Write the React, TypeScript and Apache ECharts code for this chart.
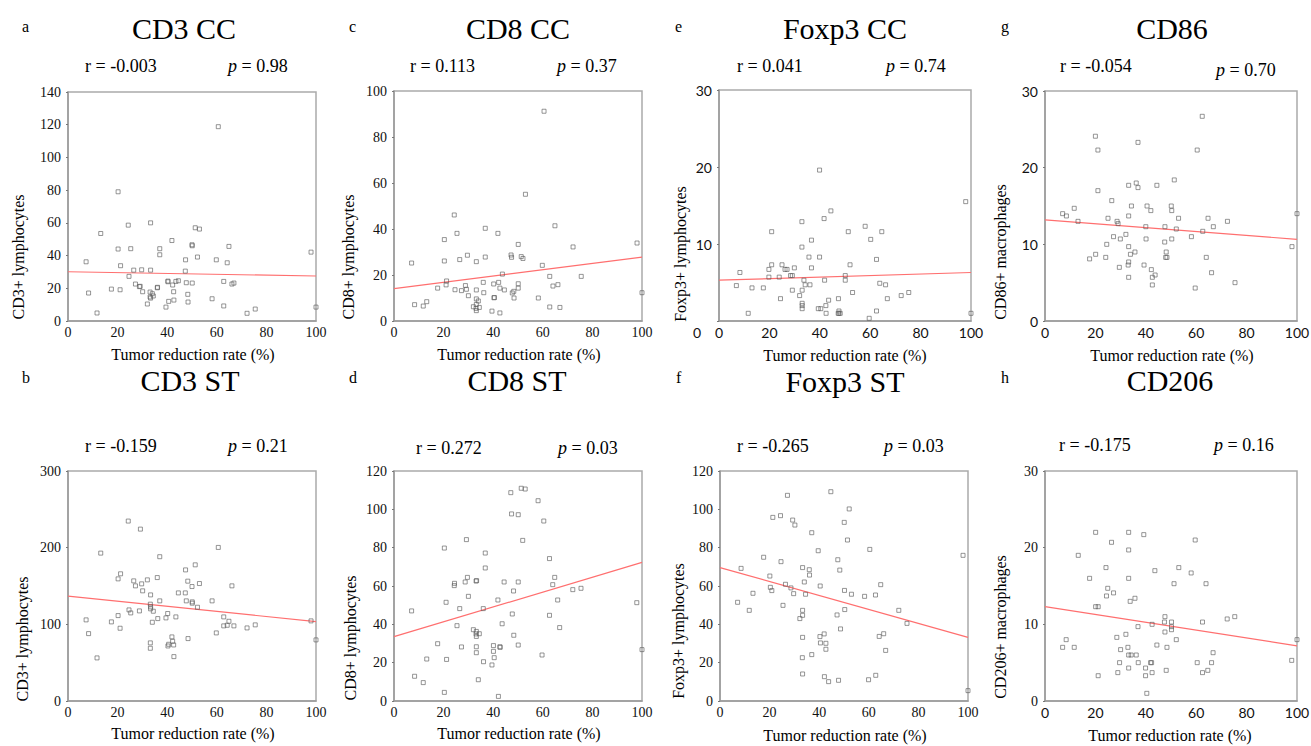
import React, { useEffect, useRef } from "react";
import * as echarts from "echarts";

type Pt = [number, number];

// ---- data (tumor reduction rate %, cell count) ----
const cd3CC: Pt[] = [[7.3,36.2],[8.3,17.1],[11.7,4.9],[13.2,53.5],[17.5,19.5],[20.2,79],[20.2,44],[21,19.1],[21.2,33.8],[24.3,58.6],[24.6,27.3],[25.3,44.2],[26.5,31.1],[27.2,22.6],[28.8,21],[29.1,21.2],[29.7,31.3],[30.1,17.9],[32,10.4],[33.3,60],[33.3,31.1],[33.1,17.7],[33.1,14.7],[33.3,14.0],[34,16.7],[34.4,15.3],[36,20.3],[36.1,20.6],[37,44.2],[37,40.5],[39.5,8.5],[40.3,24],[40.3,24.4],[40.6,12],[41.9,49.2],[42.2,22],[42.6,17.9],[42.7,12.8],[43.5,24.2],[44.5,24.6],[47.4,37.4],[47.3,30.5],[47.7,23.4],[48.3,16.3],[48.4,11.6],[50,46.6],[50.1,46],[50.1,23.2],[51.3,57],[52.2,39.1],[53,56.2],[58.1,13.6],[59.8,37.4],[60.6,118.8],[62.8,24.2],[62.8,9.2],[64.2,35.6],[64.9,45.6],[66.1,22.6],[66.9,23.2],[72.2,4.7],[75.5,7.3],[98,42.1],[100,8.5]];
const cd8CC: Pt[] = [[7.1,25.2],[8.3,7.1],[11.8,6.5],[13.2,8.4],[17.6,14.3],[20.3,35.4],[20.3,26.1],[21,15.7],[21.2,17.4],[24.3,46.1],[24.6,13.6],[25.4,38.1],[26.5,26.7],[27.2,13.2],[28.8,15.4],[29.2,13.8],[29.6,28.6],[30,11],[32,6.2],[33.1,5.5],[33.2,25.8],[33.2,13.5],[33.2,9.6],[34,8.7],[33.2,7.2],[34.4,5.9],[33.2,4.5],[36,16.8],[36.2,12.3],[36.8,40.3],[36.8,27.8],[39.5,4.3],[40.2,16.1],[40.3,10.1],[40.5,10.2],[41.9,38.1],[42.2,16.8],[42.7,14.3],[42.7,3.5],[43.7,20.4],[44.5,13.5],[47.2,28.7],[47.4,27.7],[47.7,12.2],[48.3,12.9],[48.4,10],[50.1,33.3],[50.1,16.2],[50.1,14.3],[51.3,28],[52,27.2],[53,55.1],[58.2,10],[59.8,24.2],[60.5,91.2],[62.8,19.4],[62.8,6.1],[64.1,15.2],[64.9,41.4],[66.1,15.8],[66.9,5.9],[72.2,32.2],[75.5,19.4],[98,33.9],[100,12.3]];
const foxp3CC: Pt[] = [[6.9,4.6],[8.3,6.3],[11.6,1.0],[13.1,4.3],[17.6,4.3],[19.8,6.7],[19.8,5.7],[20.9,11.6],[20.9,7.3],[23.9,5.7],[24.4,2.9],[25,7.3],[26.2,6.7],[27,6.7],[28.4,5.9],[29.1,5.9],[29.1,4.0],[29.9,6.9],[32,3.3],[32.9,12.9],[32.9,9.6],[33,4.0],[33,2.3],[33,2.0],[33,1.6],[33.7,5.3],[34.2,4.7],[35.7,8.3],[36.1,4.7],[36.7,10.5],[36.7,6.9],[39.4,1.6],[39.9,19.6],[39.9,8.3],[40.4,1.6],[41.7,13.3],[41.9,5.3],[42.4,2.0],[42.5,1.0],[43.5,2.7],[44.4,14.3],[47.4,2.9],[47.6,1.3],[47.6,1.0],[48.1,1.0],[47.3,1.0],[50.1,5.9],[50.1,5.3],[51.3,11.6],[52,7.3],[53,3.7],[58,12.3],[59.6,0.35],[60.2,10.6],[62.5,8.0],[62.5,1.3],[63.8,4.9],[64.6,11.6],[66.1,4.7],[66.8,2.9],[72.3,3.3],[75.3,3.7],[97.9,15.5],[100,1.0]];
const cd86: Pt[] = [[7,14.0],[8.5,13.7],[11.6,14.7],[13.1,13.0],[17.7,8.1],[20,24.1],[20.1,8.7],[21,22.3],[21,17.0],[24.1,8.3],[24.5,10.0],[25,13.4],[26.5,15.7],[27.2,11.0],[28.6,13.0],[29,12.7],[29.5,7.0],[29.9,10.7],[32.1,11.3],[33.2,17.7],[33.2,13.7],[33.2,9.7],[33.2,7.7],[33,7.3],[33.2,5.7],[33.9,8.7],[34.3,15.0],[35.7,9.0],[36.2,18.0],[36.9,17.4],[36.9,23.3],[39.3,7.3],[40,12.3],[40.1,10.7],[40.5,15.0],[42,14.4],[42.2,6.7],[42.6,5.7],[42.6,4.7],[43.7,6.0],[44.4,17.7],[47.5,10.3],[47.6,12.3],[47.9,8.3],[48.1,9.0],[48.4,8.3],[50.1,15.0],[50.3,14.4],[50.3,10.7],[51.3,18.4],[52.1,12.0],[53,13.4],[58.1,11.0],[59.6,4.3],[60.4,22.3],[62.4,26.7],[62.6,11.7],[64,8.3],[64.7,13.4],[66.1,6.3],[66.8,12.3],[72.4,13.0],[75.4,5.0],[98,9.7],[100,14.0]];
const cd3ST: Pt[] = [[7.3,105.8],[8.3,87.9],[11.7,56.2],[13.2,192.9],[17.5,103.2],[20.2,159.3],[20.2,111.4],[21,94.9],[21.2,165.9],[24.3,234.7],[24.6,118.8],[25.3,114.9],[26.5,156.7],[27.2,150.2],[28.8,117.5],[29.2,224.2],[29.7,152.8],[30.1,143.7],[32,158],[33.3,138.4],[33.2,126.3],[33.3,122.8],[33.3,120.2],[33.2,75.8],[33.2,68.8],[34,102.7],[34.4,117.1],[36,161],[36.2,107.5],[37,188.2],[37,130.6],[39.5,108.4],[40.2,114.1],[40.3,71.8],[40.6,74],[41.9,83.6],[42.2,77.9],[42.6,73.1],[42.7,57.9],[43.5,109.7],[44.5,141],[47.3,141],[47.4,171],[47.7,130.6],[48.3,156.3],[48.4,81.4],[50,149.3],[50.1,129.3],[50.1,127.6],[51.3,177.6],[52.2,122.3],[53,153.2],[58.1,130.6],[59.8,88.8],[60.6,200.3],[62.8,109.7],[62.8,98],[64.2,98.8],[64.9,104],[66.1,150.2],[66.9,98],[72.2,95.3],[75.5,99.3],[98,104.5],[100,79.7]];
const cd8ST: Pt[] = [[7.1,47],[8.3,12.9],[11.8,9.6],[13.2,21.9],[17.6,29.9],[20.3,79.8],[20.3,4.5],[21,51.5],[21.2,21.7],[24.3,60.2],[24.4,61.4],[25.4,39.3],[26.5,48.2],[27.2,28.2],[28.7,62.1],[29.2,84.2],[29.6,64.5],[30,54.6],[32,37.2],[33.1,62.6],[33.3,62.8],[33.2,36.3],[33.1,35],[33.2,33.7],[33.2,28.3],[33.2,25.2],[34,11.1],[34.4,35.1],[36,48.2],[36.1,20.5],[36.8,77.2],[36.8,69.4],[39.5,18.8],[40.1,28.9],[40.1,25.9],[40.4,22.6],[41.9,52.7],[42.1,2.4],[42.7,28.3],[42.8,28.0],[43.6,40.3],[44.4,62.1],[47.1,108.7],[47.4,97.6],[47.7,45.4],[48.2,57.4],[48.3,34.3],[50.1,97.2],[50.1,62.1],[50.1,29.2],[51.3,111],[51.9,83.8],[52.9,110.6],[58.1,104.5],[59.7,24],[60.4,93.9],[62.7,74.3],[62.7,44.7],[64,60.7],[64.8,64.5],[66,52.7],[66.8,38.3],[72.1,58.1],[75.4,58.8],[97.9,51.3],[100,26.8]];
const foxp3ST: Pt[] = [[7.1,51.5],[8.5,69.2],[11.8,47.3],[13.3,56.2],[17.6,75],[20.1,65.2],[20.3,59.3],[20.9,57.6],[21.3,95.8],[24.4,96.7],[24.6,72.7],[25.4,49.9],[26.4,60.9],[27.2,107.3],[28.6,59],[29.3,94.4],[29.7,56],[30.2,91.8],[32.2,43],[33.3,69.6],[33.3,47.3],[33.3,44.7],[33.3,33.2],[33.2,22.6],[33.3,14.1],[34,62.1],[34.5,55.7],[36,68.5],[36.1,65.7],[37,87.8],[37,24.2],[39.6,78.4],[40.3,33.6],[40.4,60],[40.5,30.3],[42,35],[42.1,12.7],[42.7,30.1],[42.7,27],[43.8,10.1],[44.7,109.2],[47.2,44.9],[47.5,73.7],[47.8,10.8],[48.3,68.3],[48.6,37.6],[50.1,93.2],[50.2,57.7],[50.3,47.7],[51.4,84],[52.1,100.2],[53,55.7],[58.3,54.6],[59.9,11.1],[60.4,79.1],[62.7,55.3],[62.8,13.4],[64.2,33.7],[64.8,60.7],[66,35.1],[66.8,26.4],[72.1,47.3],[75.4,40.5],[98,76],[100,5.4]];
const cd206: Pt[] = [[7,7.0],[8.4,8.0],[11.6,7.0],[13.2,19.0],[17.7,16.0],[20.1,22.0],[20.1,12.3],[21.1,12.3],[21.1,3.3],[24.2,17.4],[24.4,13.7],[24.9,14.7],[26.4,20.7],[27.2,14.1],[28.5,8.3],[28.9,3.7],[29.6,5.0],[30,6.7],[32.1,8.7],[33.2,22.0],[33.2,19.7],[33.2,16.0],[32.9,7.0],[33.2,6.0],[33.2,4.3],[33.8,13.0],[34.2,6.0],[35.7,13.4],[36.2,6.0],[36.9,9.7],[37,5.0],[39.2,21.7],[39.9,4.3],[39.9,3.3],[40.4,1.0],[41.9,5.0],[42.3,5.0],[42.5,3.7],[42.5,10.0],[43.6,17.0],[44.4,7.3],[47.4,10.3],[47.6,11.0],[47.6,9.0],[48.1,4.0],[48.4,7.0],[50.2,10.3],[50.2,9.7],[50.2,9.3],[51.2,15.3],[52.1,8.0],[53.1,17.4],[58,16.7],[59.6,21.0],[60.4,5.0],[62.5,3.7],[62.5,10.3],[63.9,15.3],[64.6,4.0],[66.1,5.0],[66.7,6.3],[72.3,10.7],[75.3,11.0],[97.9,5.3],[100,8.0]];

// regression line: fitted value at x = 0 and at x = 100
const fitStart = [30.1, 14.1, 5.3, 13.2, 136.7, 33.6, 69.6, 12.3];
const fitEnd = [27.5, 27.8, 6.3, 10.65, 103.6, 72.3, 33.2, 7.2];

const panelData = [cd3CC, cd8CC, foxp3CC, cd86, cd3ST, cd8ST, foxp3ST, cd206];
const panelLetters = ["a", "c", "e", "g", "b", "d", "f", "h"];
const panelTitles = ["CD3 CC", "CD8 CC", "Foxp3 CC", "CD86", "CD3 ST", "CD8 ST", "Foxp3 ST", "CD206"];
const rValues = ["-0.003", "0.113", "0.041", "-0.054", "-0.159", "0.272", "-0.265", "-0.175"];
const pValues = ["0.98", "0.37", "0.74", "0.70", "0.21", "0.03", "0.03", "0.16"];
const yNames = ["CD3+ lymphocytes", "CD8+ lymphocytes", "Foxp3+ lymphocytes", "CD86+ macrophages", "CD3+ lymphocytes", "CD8+ lymphocytes", "Foxp3+ lymphocytes", "CD206+ macrophages"];
const yMax = [140, 100, 30, 30, 300, 120, 120, 30];
const yStep = [20, 20, 10, 10, 100, 20, 20, 10];
const xName = "Tumor reduction rate (%)";
const xMax = 100;
const xStep = 20;

// ---- layout / style ----
const SERIF = "Liberation Serif";
const SANS = "Lato";
const layout = [
  { grid: [68, 92, 248, 229], letter: [22, 26], title: [184, 28], r: [85, 66], p: [228, 66], yName: [18, 257], xName: [193, 354], yFont: SERIF, xFont: SERIF },
  { grid: [394, 91, 248, 230], letter: [349, 26], title: [518, 28], r: [410, 66], p: [557, 66], yName: [348, 257], xName: [519, 354], yFont: SERIF, xFont: SERIF },
  { grid: [719, 90, 252, 231], letter: [675, 26], title: [845, 28], r: [737, 66], p: [886, 66], yName: [680, 254], xName: [845, 355], yFont: SANS, xFont: SANS },
  { grid: [1045, 91, 252, 230], letter: [1001, 26], title: [1172, 28], r: [1060, 66], p: [1216, 70], yName: [1000, 252], xName: [1172, 355], yFont: SANS, xFont: SANS },
  { grid: [68, 471, 248, 230], letter: [22, 377], title: [190, 380], r: [85, 446], p: [228, 446], yName: [22, 639], xName: [193, 733], yFont: SERIF, xFont: SERIF },
  { grid: [394, 471, 248, 230], letter: [349, 377], title: [517, 380], r: [416, 448], p: [558, 448], yName: [350, 638], xName: [519, 733], yFont: SERIF, xFont: SERIF },
  { grid: [720, 471, 248, 230], letter: [676, 377], title: [845, 381], r: [737, 446], p: [884, 446], yName: [678, 631], xName: [845, 735], yFont: SERIF, xFont: SERIF },
  { grid: [1045, 471, 252, 230], letter: [1001, 377], title: [1170, 380], r: [1059, 445], p: [1214, 445], yName: [1000, 627], xName: [1170, 735], yFont: SERIF, xFont: SANS },
];

const AXIS_GREY = "#9a9a9a";

export default function App() {
  const ref = useRef<HTMLDivElement>(null);

  useEffect(() => {
    if (!ref.current) return;
    const chart = echarts.init(ref.current, null, { renderer: "svg" });

    const grids: any[] = [];
    const xAxes: any[] = [];
    const yAxes: any[] = [];
    const series: any[] = [];
    const graphics: any[] = [];

    layout.forEach((L, i) => {
      const [left, top, width, height] = L.grid;
      grids.push({
        left, top, width, height,
        show: true,
        borderColor: "#ababab",
        borderWidth: 1.5,
        backgroundColor: "transparent",
        containLabel: false,
        outerBoundsMode: "none",
      });
      xAxes.push({
        type: "value",
        gridIndex: i,
        min: 0,
        max: xMax,
        interval: xStep,
        splitLine: { show: false },
        axisLine: { show: true, onZero: false, lineStyle: { color: AXIS_GREY, width: 1.5 } },
        axisTick: { show: false },
        axisLabel: { color: "#111", fontSize: 14, fontFamily: L.xFont, margin: 4 },
      });
      yAxes.push({
        type: "value",
        gridIndex: i,
        min: 0,
        max: yMax[i],
        interval: yStep[i],
        splitLine: { show: false },
        axisLine: { show: true, onZero: false, lineStyle: { color: AXIS_GREY, width: 1.5 } },
        axisTick: { show: true, length: 2, lineStyle: { color: "#777" } },
        axisLabel: {
          color: "#111",
          fontSize: 14,
          fontFamily: L.yFont,
          margin: 7,
          formatter: i === 2 ? (v: number) => (v === 0 ? "" : String(v)) : undefined,
        },
      });
      series.push({
        type: "line",
        xAxisIndex: i,
        yAxisIndex: i,
        data: [[0, fitStart[i]], [xMax, fitEnd[i]]],
        showSymbol: false,
        symbol: "none",
        silent: true,
        lineStyle: { color: "#ff6f6f", width: 1.2 },
        z: 2,
      });
      series.push({
        type: "scatter",
        xAxisIndex: i,
        yAxisIndex: i,
        data: panelData[i],
        symbol: "rect",
        symbolSize: 4,
        clip: false,
        itemStyle: { color: "rgba(255,255,255,0)", borderColor: "#5a5a5a", borderWidth: 0.8 },
        z: 3,
      });

      graphics.push({
        type: "text", x: L.letter[0], y: L.letter[1],
        style: { text: panelLetters[i], fontFamily: SERIF, fontSize: 16, fill: "#000", textAlign: "left", textVerticalAlign: "middle" },
      });
      graphics.push({
        type: "text", x: L.title[0], y: L.title[1],
        style: { text: panelTitles[i], fontFamily: SERIF, fontSize: 30, fill: "#000", textAlign: "center", textVerticalAlign: "middle" },
      });
      graphics.push({
        type: "text", x: L.r[0], y: L.r[1],
        style: { text: "r = " + rValues[i], fontFamily: SERIF, fontSize: 18, fill: "#000", textAlign: "left", textVerticalAlign: "middle" },
      });
      graphics.push({
        type: "text", x: L.p[0], y: L.p[1],
        style: {
          text: "{i|p} = " + pValues[i],
          fontFamily: SERIF, fontSize: 18, fill: "#000", textAlign: "left", textVerticalAlign: "middle",
          rich: { i: { fontFamily: SERIF, fontSize: 18, fontStyle: "italic", fill: "#000" } },
        },
      });
      graphics.push({
        type: "text", x: L.yName[0], y: L.yName[1], rotation: Math.PI / 2,
        style: { text: yNames[i], fontFamily: SERIF, fontSize: 16, fill: "#000", textAlign: "center", textVerticalAlign: "middle" },
      });
      graphics.push({
        type: "text", x: L.xName[0], y: L.xName[1],
        style: { text: xName, fontFamily: SERIF, fontSize: 16, fill: "#000", textAlign: "center", textVerticalAlign: "middle" },
      });
    });

    // the zero label of panel e sits below its axis in the original
    graphics.push({
      type: "text", x: 697, y: 332,
      style: { text: "0", fontFamily: SANS, fontSize: 14, fill: "#111", textAlign: "center", textVerticalAlign: "middle" },
    });

    chart.setOption({
      animation: false,
      backgroundColor: "#ffffff",
      grid: grids,
      xAxis: xAxes,
      yAxis: yAxes,
      series,
      graphic: graphics,
    });

    return () => chart.dispose();
  }, []);

  return (
    <div
      ref={ref}
      style={{ position: "absolute", left: 0, top: 0, width: 1311, height: 746, background: "#fff" }}
    />
  );
}
